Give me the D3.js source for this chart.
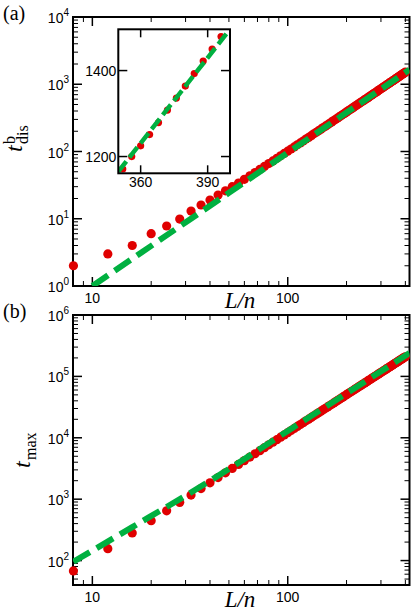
<!DOCTYPE html>
<html><head><meta charset="utf-8">
<script src="https://cdn.jsdelivr.net/npm/d3@7"></script>
<style>body{margin:0;background:#fff}svg{display:block}</style>
</head><body>
<script>
// ---------- data ----------
const lnValues = d3.range(8, 401, 4); // L/n = 8,12,...,400
const tDis = [2.0,3.0,4.0,6.0,7.8,9.9,13.0,16.0,19.0,22.5,26.0,30.0,34.0,38.6,43.5,48.7,54.2,60.0,66.1,72.5,
  79.2,86.2,93.5,101,109,117,126,134,143,153,162,172,183,193,204,215,227,238,250,263,
  275,288,301,315,328,342,357,371,386,402,417,433,449,466,482,499,517,534,552,570,
  589,608,627,646,666,686,706,726,747,768,790,812,834,856,879,901,925,948,972,996,
  1020,1045,1070,1095,1121,1147,1171,1200,1225,1251,1279,1308,1336,1364,1393,1422,1450,1479,1510];
const tMax = [67.7,156,281,445,647,887,1167,1487,1846,2245,2685,3165,3685,4246,4848,5491,6175,6900,7666,8475,
  9325,10216,11149,12124,13141,14200,15302,16444,17632,18859,20130,21443,22799,24198,25639,27123,28651,30222,31835,33493,
  35191,36934,38720,40548,42421,44338,46295,48297,50344,52434,54566,56746,58967,61233,63543,65894,68290,70729,73213,75743,
  78317,80934,83594,86297,89046,91842,94679,97562,100490,103460,106470,109530,112630,115790,118980,122210,125500,128830,132190,135610,
  139070,142580,146120,149720,153370,157060,160780,164560,168380,172240,176160,180110,184110,188160,192250,196390,200570,204800,209060];
// fitted curves (green dashed)
const fitDisX = [10, 20, 50, 100, 200, 420];
const fitDisY = [1, 3.95, 24.3, 95.9, 379, 1650];
const fitMaxX = [8, 16, 40, 100, 420];
const fitMaxY = [96, 350, 1990, 12900, 240000];
const insetFitX = [350, 400];
const insetFitY = [1165, 1496];
// axes
const xDomain = [7.96, 420];
const xMajor = [10, 100];
const xMinor = [8, 9, 20, 30, 40, 50, 60, 70, 80, 90, 200, 300, 400];
const yDisDomain = [1, 1e4];
const yDisExp = [0, 1, 2, 3, 4];
const yMaxDomain = [40, 1e6];
const yMaxExp = [2, 3, 4, 5, 6];
const insetXDomain = [350, 400];
const insetYDomain = [1161, 1496];
const insetXTicks = [360, 390];
const insetYTicks = [1200, 1400];

// ---------- layout ----------
const W = 415, H = 613;
const RED = "#e00000", GREEN = "#00b040";
const svg = d3.select("body").append("svg").attr("width", W).attr("height", H);
const sans = "Liberation Sans, Arial, sans-serif";
const serif = "Liberation Serif, Times New Roman, serif";

const x = d3.scaleLog().domain(xDomain).range([73, 409.5]);

function minorsFor(domain) {
  const out = [];
  const lo = Math.floor(Math.log10(domain[0])), hi = Math.ceil(Math.log10(domain[1]));
  for (let e = lo; e < hi; e++) for (let m = 2; m <= 9; m++) {
    const v = m * Math.pow(10, e);
    if (v > domain[0] * 1.0001 && v < domain[1] * 0.9999) out.push(v);
  }
  return out;
}

function panel(top, bottom, yDomain, yExp, label, data, fitX, fitY) {
  const y = d3.scaleLog().domain(yDomain).range([bottom, top]);
  const g = svg.append("g");
  const L = 73, R = 409.5;
  const clipId = "clip" + Math.round(top);
  svg.append("clipPath").attr("id", clipId).append("rect")
    .attr("x", L).attr("y", top).attr("width", R - L).attr("height", bottom - top);
  // ticks
  const majorY = yExp.map(e => Math.pow(10, e)).filter(v => v >= yDomain[0] && v <= yDomain[1]);
  const minorY = minorsFor(yDomain);
  const tk = g.append("g").attr("stroke", "#000");
  majorY.forEach(v => {
    tk.append("line").attr("x1", L).attr("x2", L + 9).attr("y1", y(v)).attr("y2", y(v)).attr("stroke-width", 1.5);
    tk.append("line").attr("x1", R).attr("x2", R - 9).attr("y1", y(v)).attr("y2", y(v)).attr("stroke-width", 1.5);
  });
  minorY.forEach(v => {
    tk.append("line").attr("x1", L).attr("x2", L + 5).attr("y1", y(v)).attr("y2", y(v)).attr("stroke-width", 1);
    tk.append("line").attr("x1", R).attr("x2", R - 5).attr("y1", y(v)).attr("y2", y(v)).attr("stroke-width", 1);
  });
  xMajor.forEach(v => {
    tk.append("line").attr("x1", x(v)).attr("x2", x(v)).attr("y1", bottom).attr("y2", bottom - 9).attr("stroke-width", 1.5);
    tk.append("line").attr("x1", x(v)).attr("x2", x(v)).attr("y1", top).attr("y2", top + 9).attr("stroke-width", 1.5);
  });
  xMinor.forEach(v => {
    if (x(v) <= L + 1 || x(v) >= R - 1) return;
    tk.append("line").attr("x1", x(v)).attr("x2", x(v)).attr("y1", bottom).attr("y2", bottom - 5).attr("stroke-width", 1);
    tk.append("line").attr("x1", x(v)).attr("x2", x(v)).attr("y1", top).attr("y2", top + 5).attr("stroke-width", 1);
  });
  // y tick labels
  majorY.forEach((v, i) => {
    const e = Math.round(Math.log10(v));
    const t = g.append("text").attr("x", 69).attr("y", y(v) + 6).attr("text-anchor", "end")
      .attr("font-family", sans).attr("font-size", 14);
    t.append("tspan").text("10");
    t.append("tspan").attr("dy", -7).attr("font-size", 10).text(e);
  });
  // x tick labels
  xMajor.forEach(v => {
    g.append("text").attr("x", x(v)).attr("y", bottom + 17).attr("text-anchor", "middle")
      .attr("font-family", sans).attr("font-size", 14).text(v);
  });
  // x label
  g.append("text").attr("x", 240).attr("y", bottom + 22).attr("text-anchor", "middle")
    .attr("font-family", serif).attr("font-style", "italic").attr("font-size", 23).text("L/n");
  // panel label
  g.append("text").attr("x", 3).attr("y", top + 3).attr("font-family", serif).attr("font-size", 20).text(label);

  // frame
  svg.append("rect").attr("x", L).attr("y", top).attr("width", R - L).attr("height", bottom - top)
    .attr("fill", "none").attr("stroke", "#000").attr("stroke-width", 2);
  // data (dots unclipped, fit line clipped)
  svg.append("g").selectAll("circle").data(lnValues.map((v, i) => [v, data[i]])).join("circle")
    .attr("cx", d => x(d[0])).attr("cy", d => y(d[1])).attr("r", 4.6).attr("fill", RED);
  const line = d3.line().x(d => x(d[0])).y(d => y(d[1])).curve(d3.curveMonotoneX);
  svg.append("g").attr("clip-path", `url(#${clipId})`)
    .append("path").datum(fitX.map((v, i) => [v, fitY[i]])).attr("d", line)
    .attr("fill", "none").attr("stroke", GREEN).attr("stroke-width", 6).attr("stroke-dasharray", "19,8");
  return y;
}

panel(17, 286, yDisDomain, yDisExp, "(a)", tDis, fitDisX, fitDisY);
panel(315, 585, yMaxDomain, yMaxExp, "(b)", tMax, fitMaxX, fitMaxY);

// y labels
{
  const g = svg.append("g").attr("transform", "translate(22,152) rotate(-90)").attr("font-family", serif);
  g.append("text").attr("x", 0).attr("y", 0).attr("font-style", "italic").attr("font-size", 24).text("t");
  g.append("text").attr("x", 8).attr("y", -7).attr("font-size", 16).text("b");
  g.append("text").attr("x", 8).attr("y", 6).attr("font-size", 16).text("dis");
}
{
  const g = svg.append("g").attr("transform", "translate(30,468) rotate(-90)").attr("font-family", serif);
  g.append("text").attr("x", 0).attr("y", 0).attr("font-style", "italic").attr("font-size", 24).text("t");
  g.append("text").attr("x", 8).attr("y", 6).attr("font-size", 16).text("max");
}

// ---------- inset ----------
{
  const L = 118.3, R = 230, T = 29.3, B = 173.3;
  const ix = d3.scaleLinear().domain(insetXDomain).range([L, R]);
  const iy = d3.scaleLinear().domain(insetYDomain).range([B, T]);
  const g = svg.append("g");
  g.append("rect").attr("x", L).attr("y", T).attr("width", R - L).attr("height", B - T).attr("fill", "#fff");
  svg.append("clipPath").attr("id", "clipInset").append("rect")
    .attr("x", L).attr("y", T).attr("width", R - L).attr("height", B - T);
  const pg = g.append("g").attr("clip-path", "url(#clipInset)");
  const pts = lnValues.map((v, i) => [v, tDis[i]]).filter(d => d[0] >= insetXDomain[0] && d[0] <= insetXDomain[1]);
  pg.selectAll("circle").data(pts).join("circle")
    .attr("cx", d => ix(d[0])).attr("cy", d => iy(d[1])).attr("r", 3.6).attr("fill", RED);
  pg.append("path").datum(insetFitX.map((v, i) => [v, insetFitY[i]]))
    .attr("d", d3.line().x(d => ix(d[0])).y(d => iy(d[1])))
    .attr("fill", "none").attr("stroke", GREEN).attr("stroke-width", 4.5).attr("stroke-dasharray", "13,5");
  const tk = g.append("g").attr("stroke", "#000").attr("stroke-width", 1.5);
  insetXTicks.forEach(v => {
    tk.append("line").attr("x1", ix(v)).attr("x2", ix(v)).attr("y1", B).attr("y2", B - 8);
    tk.append("line").attr("x1", ix(v)).attr("x2", ix(v)).attr("y1", T).attr("y2", T + 8);
    g.append("text").attr("x", ix(v)).attr("y", B + 14).attr("text-anchor", "middle")
      .attr("font-family", sans).attr("font-size", 14).text(v);
  });
  insetYTicks.forEach(v => {
    tk.append("line").attr("x1", L).attr("x2", L + 9).attr("y1", iy(v)).attr("y2", iy(v));
    tk.append("line").attr("x1", R).attr("x2", R - 9).attr("y1", iy(v)).attr("y2", iy(v));
    g.append("text").attr("x", L - 2).attr("y", iy(v) + 5).attr("text-anchor", "end")
      .attr("font-family", sans).attr("font-size", 14).text(v);
  });
  g.append("rect").attr("x", L).attr("y", T).attr("width", R - L).attr("height", B - T)
    .attr("fill", "none").attr("stroke", "#000").attr("stroke-width", 2);
}
</script>
</body></html>
